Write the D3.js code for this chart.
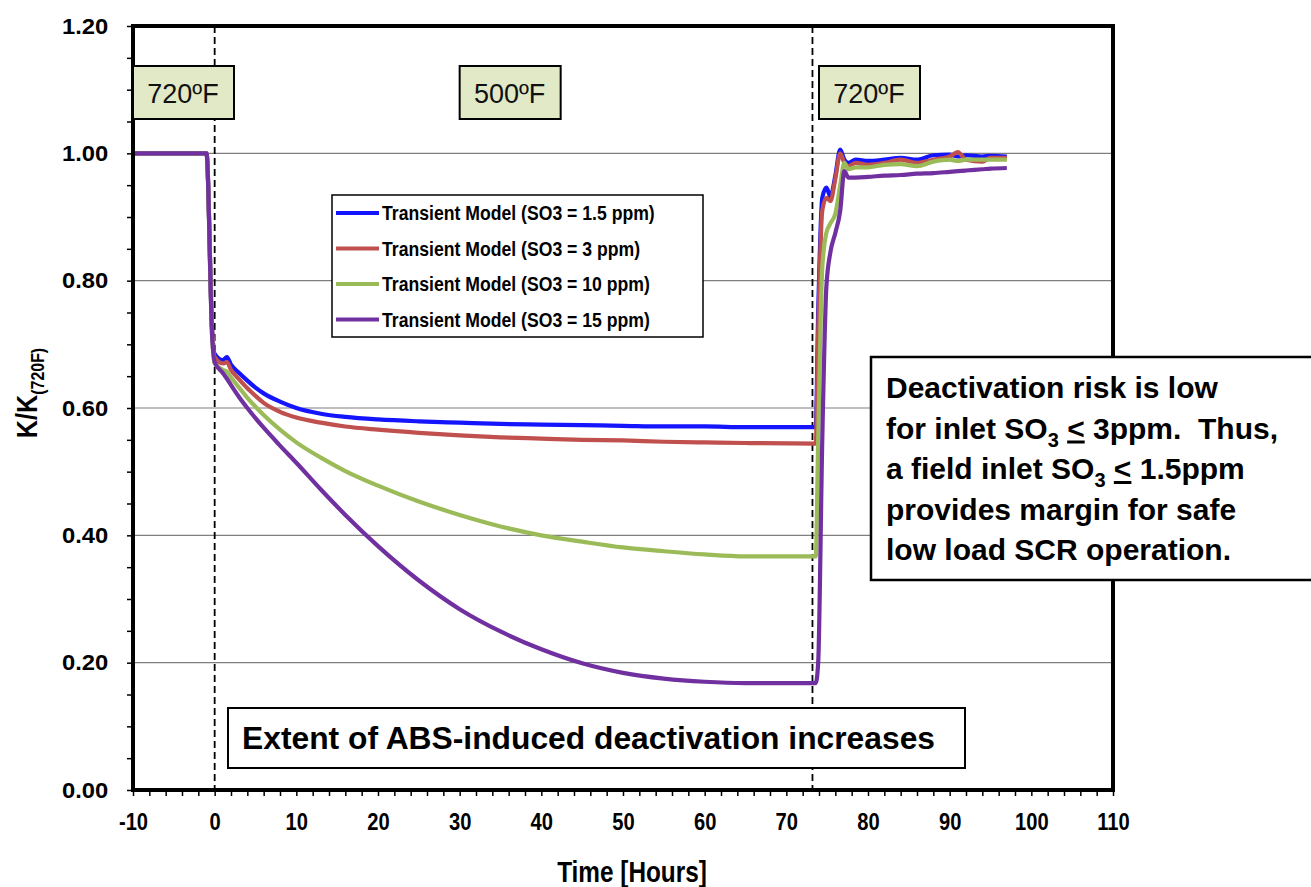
<!DOCTYPE html>
<html lang="en">
<head>
    <meta charset="UTF-8">
    <title>K/K(720F) vs Time</title>
    <style>
        body { margin: 0; background: #fff; }
        svg { display: block; }
        text { font-family: "Liberation Sans", Arial, sans-serif; }
    </style>
</head>
<body>
    <svg width="1311" height="887"></svg>
    <script src="https://cdn.jsdelivr.net/npm/d3@7"></script>
    <script>
        // data
        const seriesNames = [
            'Transient Model (SO3 = 1.5 ppm)',
            'Transient Model (SO3 = 3 ppm)',
            'Transient Model (SO3 = 10 ppm)',
            'Transient Model (SO3 = 15 ppm)'
        ];
        const seriesColors = ['#1414ff', '#c0504d', '#9bbb59', '#7030a0'];

        // time grid (hours): 720F, 500F hold, back to 720F
        const timeDecay = [-10, -1, -0.3, 0, 1, 1.5, 2, 3, 4, 5, 6, 8, 10, 13, 16, 20, 25, 30, 35, 40, 45, 50, 55, 60, 65, 73.6];
        const timeRecovery = [73.9, 74.4, 74.9, 75.4, 76.0, 76.6, 77.1, 77.6, 78.5, 80, 82, 84, 86, 88, 90, 91, 92, 94, 95, 97];

        const kBlue = [1, 1, 0.72, 0.685, 0.675, 0.68, 0.668, 0.655, 0.643, 0.632, 0.623, 0.61, 0.6, 0.591, 0.586, 0.582, 0.579, 0.577, 0.575, 0.574, 0.573, 0.572, 0.571, 0.571, 0.57, 0.57,
            0.75, 0.93, 0.946, 0.932, 0.965, 1.006, 0.99, 0.985, 0.99, 0.988, 0.99, 0.993, 0.99, 0.997, 0.998, 0.995, 0.997, 0.995, 0.996, 0.995];
        const kRed = [1, 1, 0.72, 0.68, 0.67, 0.672, 0.66, 0.645, 0.631, 0.619, 0.608, 0.594, 0.585, 0.577, 0.571, 0.566, 0.561, 0.557, 0.554, 0.552, 0.55, 0.549, 0.547, 0.546, 0.545, 0.544,
            0.72, 0.91, 0.93, 0.925, 0.96, 1.0, 0.985, 0.98, 0.985, 0.982, 0.985, 0.99, 0.985, 0.99, 0.995, 1.002, 0.99, 0.987, 0.993, 0.993];
        const kGreen = [1, 1, 0.71, 0.67, 0.66, 0.657, 0.648, 0.632, 0.616, 0.602, 0.589, 0.566, 0.546, 0.522, 0.501, 0.478, 0.453, 0.432, 0.414, 0.4, 0.39, 0.381, 0.375, 0.37, 0.367, 0.367,
            0.55, 0.82, 0.875, 0.89, 0.905, 0.95, 0.985, 0.975, 0.978, 0.978, 0.982, 0.983, 0.98, 0.987, 0.99, 0.988, 0.99, 0.99, 0.99, 0.99];
        const kPurple = [1, 1, 0.71, 0.672, 0.655, 0.646, 0.636, 0.617, 0.6, 0.584, 0.569, 0.541, 0.514, 0.472, 0.432, 0.383, 0.329, 0.284, 0.249, 0.221, 0.199, 0.184, 0.175, 0.17, 0.168, 0.168,
            0.2, 0.55, 0.79, 0.845, 0.875, 0.91, 0.972, 0.962, 0.962, 0.963, 0.965, 0.966, 0.968, 0.969, 0.971, 0.972, 0.973, 0.975, 0.976, 0.977];

        const phaseLines = [0, 73.2];          // dashed temperature switches
        const phaseLabels = ['720ºF', '500ºF', '720ºF'];
        const phaseLabelX = [-10, 30, 74];     // left edge of each label box (hours)

        const xTicks = d3.range(-10, 111, 2);
        const yTicks = d3.range(0, 25).map(i => +(i * 0.05).toFixed(2));

        // layout
        var svg = d3.select('svg');
        var mLeft = 133, mTop = 26, mRight = 1113, mBottom = 790;

        var x = d3.scaleLinear().domain([-10, 110]).range([mLeft, mRight]);
        var y = d3.scaleLinear().domain([0, 1.2]).range([mBottom, mTop]);

        var condensed = 'scale(0.84,1)';

        // grid
        svg.append('g').selectAll('line')
            .data([0.2, 0.4, 0.6, 0.8, 1.0])
            .enter().append('line')
            .attr('x1', mLeft).attr('x2', mRight)
            .attr('y1', d => y(d)).attr('y2', d => y(d))
            .attr('stroke', '#7f7f7f').attr('stroke-width', 1.2);

        // dashed phase lines
        svg.append('g').selectAll('line')
            .data(phaseLines)
            .enter().append('line')
            .attr('x1', d => x(d)).attr('x2', d => x(d))
            .attr('y1', mTop).attr('y2', mBottom)
            .attr('stroke', '#000').attr('stroke-width', 1.8)
            .attr('stroke-dasharray', '7,4');

        // axes
        var axisY = d3.axisLeft(y).tickValues(yTicks).tickSize(6).tickPadding(17)
            .tickFormat(d => Math.abs(d * 5 - Math.round(d * 5)) < 1e-6 ? d.toFixed(2) : '');
        var gy = svg.append('g').attr('transform', 'translate(' + mLeft + ',0)').call(axisY);
        gy.select('.domain').remove();
        gy.selectAll('line').attr('stroke', '#000').attr('stroke-width', 1.5);
        gy.selectAll('text').attr('font-size', 22).attr('font-weight', 'bold')
            .attr('font-family', '"Liberation Sans", Arial, sans-serif').attr('fill', '#000')
            .attr('transform', 'scale(1.08,1)');

        var axisX = d3.axisBottom(x).tickValues(xTicks).tickSize(6).tickPadding(17)
            .tickFormat(d => d % 10 === 0 ? d : '');
        var gx = svg.append('g').attr('transform', 'translate(0,' + mBottom + ')').call(axisX);
        gx.select('.domain').remove();
        gx.selectAll('line').attr('stroke', '#000').attr('stroke-width', 1.5);
        gx.selectAll('text').attr('font-size', 24).attr('font-weight', 'bold')
            .attr('font-family', '"Liberation Sans", Arial, sans-serif').attr('fill', '#000')
            .attr('transform', condensed);

        // series lines (smoothed like the spreadsheet plot)
        var timeAll = timeDecay.concat(timeRecovery);
        var allSeries = [kBlue, kRed, kGreen, kPurple];
        var line = d3.line().x(d => x(d[0])).y(d => y(d[1])).curve(d3.curveMonotoneX);
        allSeries.forEach(function (vals, i) {
            svg.append('path')
                .datum(timeAll.map((t, j) => [t, vals[j]]))
                .attr('d', line)
                .attr('fill', 'none')
                .attr('stroke', seriesColors[i])
                .attr('stroke-width', 4.2)
                .attr('stroke-linejoin', 'round');
        });

        // frame
        svg.append('rect')
            .attr('x', mLeft).attr('y', mTop)
            .attr('width', mRight - mLeft).attr('height', mBottom - mTop)
            .attr('fill', 'none').attr('stroke', '#000').attr('stroke-width', 4);

        // temperature boxes
        var pb = svg.append('g').selectAll('g').data(phaseLabels).enter().append('g')
            .attr('transform', (d, i) => 'translate(' + x(phaseLabelX[i]) + ',66)');
        pb.append('rect').attr('width', 101).attr('height', 53)
            .attr('fill', '#e1e9c6').attr('stroke', '#000').attr('stroke-width', 2);
        pb.append('text').attr('x', 50).attr('y', 37).attr('text-anchor', 'middle')
            .attr('font-size', 27).attr('fill', '#111')
            .text(d => d);

        // legend
        var lg = svg.append('g').attr('transform', 'translate(332,195)');
        lg.append('rect').attr('width', 371).attr('height', 142)
            .attr('fill', '#fff').attr('stroke', '#000').attr('stroke-width', 1.5);
        var li = lg.selectAll('g.item').data(seriesNames).enter().append('g')
            .attr('class', 'item')
            .attr('transform', (d, i) => 'translate(0,' + (18 + i * 35.5) + ')');
        li.append('line').attr('x1', 4).attr('x2', 47).attr('y1', 0).attr('y2', 0)
            .attr('stroke', (d, i) => seriesColors[i]).attr('stroke-width', 4);
        li.append('text').attr('transform', 'translate(50,7) ' + condensed)
            .attr('font-size', 21).attr('font-weight', 'bold').attr('fill', '#000')
            .text(d => d);

        // bottom note
        var nb = svg.append('g').attr('transform', 'translate(228,708)');
        nb.append('rect').attr('width', 737).attr('height', 60)
            .attr('fill', '#fff').attr('stroke', '#000').attr('stroke-width', 2);
        nb.append('text').attr('x', 14).attr('y', 41)
            .attr('font-size', 31).attr('font-weight', 'bold').attr('fill', '#000')
            .attr('textLength', 693).attr('lengthAdjust', 'spacingAndGlyphs')
            .text('Extent of ABS-induced deactivation increases');

        // right note
        var rb = svg.append('g').attr('transform', 'translate(871,357)');
        rb.append('rect').attr('width', 460).attr('height', 223)
            .attr('fill', '#fff').attr('stroke', '#000').attr('stroke-width', 2.5);
        var rt = rb.append('text').attr('font-size', 30).attr('font-weight', 'bold')
            .attr('fill', '#000').style('white-space', 'pre');
        function addLine(parts, i) {
            var first = true;
            parts.forEach(function (p) {
                var ts = rt.append('tspan');
                if (first) { ts.attr('x', 15).attr('y', 41 + i * 40.5); first = false; }
                if (p.sub) {
                    ts.attr('font-size', 20).attr('dy', 8).text(p.sub);
                    rt.append('tspan').attr('dy', -8).text(' ');
                } else if (p.u) {
                    ts.style('text-decoration', 'underline').text(p.u);
                } else {
                    ts.text(p.t);
                }
            });
        }
        addLine([{ t: 'Deactivation risk is low' }], 0);
        addLine([{ t: 'for inlet SO' }, { sub: '3' }, { u: '<' }, { t: ' 3ppm.  Thus,' }], 1);
        addLine([{ t: 'a field inlet SO' }, { sub: '3' }, { u: '<' }, { t: ' 1.5ppm' }], 2);
        addLine([{ t: 'provides margin for safe' }], 3);
        addLine([{ t: 'low load SCR operation.' }], 4);

        // axis titles
        svg.append('text')
            .attr('transform', 'translate(632,882) ' + condensed)
            .attr('text-anchor', 'middle').attr('font-size', 29).attr('font-weight', 'bold')
            .text('Time [Hours]');

        var yt = svg.append('text')
            .attr('transform', 'translate(37,393) rotate(-90) ' + condensed)
            .attr('text-anchor', 'middle').attr('font-size', 30).attr('font-weight', 'bold');
        yt.append('tspan').text('K/K');
        yt.append('tspan').attr('font-size', 19).attr('dy', 7).text('(720F)');
    </script>
</body>
</html>
